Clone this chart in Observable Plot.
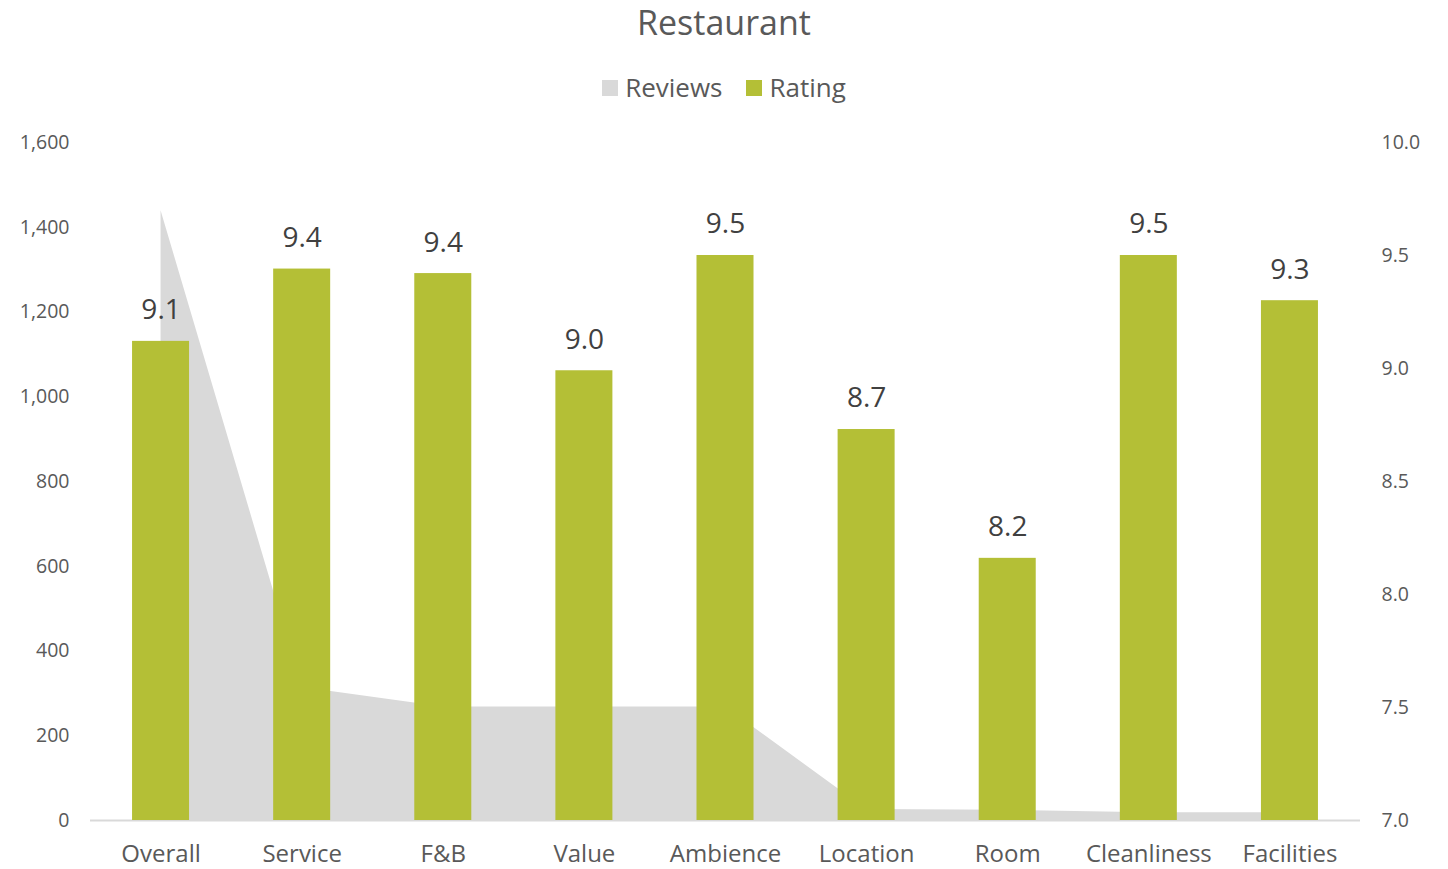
<!DOCTYPE html>
<html><head><meta charset="utf-8">
<script src="https://cdn.jsdelivr.net/npm/d3@7"></script>
<script src="https://cdn.jsdelivr.net/npm/@observablehq/plot@0.6"></script>
<style>
body{margin:0;background:#fff;font-family:"Open Sans",sans-serif;color:#595959;width:1448px;}
#title{height:44px;line-height:44px;text-align:center;font-size:34px;}
#legend{height:66px;box-sizing:border-box;padding-top:20px;display:flex;justify-content:center;align-items:center;font-size:26px;gap:24px}
.sw{display:inline-block;width:16px;height:16px;margin-right:7px;vertical-align:middle;position:relative;top:-2px}
</style></head><body>
<div id="title">Restaurant</div>
<div id="legend"><span><span class="sw" style="background:#d9d9d9"></span>Reviews</span><span><span class="sw" style="background:#b4bf36"></span>Rating</span></div>
<div id="chart"></div>
<script>
const categories = ["Overall","Service","F&B","Value","Ambience","Location","Room","Cleanliness","Facilities"];
const reviews = [1439, 314, 268, 268, 268, 26, 24, 18, 18];
const ratings = [9.12, 9.44, 9.42, 8.99, 9.50, 8.73, 8.16, 9.50, 9.30];
const leftTicks = [0, 200, 400, 600, 800, 1000, 1200, 1400, 1600];
const rightTicks = [7.0, 7.5, 8.0, 8.5, 9.0, 9.5, 10.0];

const toY = r => (r - 7) / 3 * 1600;
const fromY = y => 7 + y / 1600 * 3;
const data = categories.map((c, i) => ({c, reviews: reviews[i], rating: ratings[i]}));

const plot = Plot.plot({
  width: 1448, height: 759,
  marginTop: 32, marginBottom: 49, marginLeft: 90, marginRight: 88,
  style: {fontFamily: "Open Sans", fontSize: "19.5px", color: "#595959", background: "#fff"},
  x: {domain: categories, paddingInner: 0.596, paddingOuter: 0.298, round: false, label: null},
  y: {domain: [0, 1600], label: null},
  marks: [
    Plot.areaY(data, {x: "c", y: "reviews", fill: "#d9d9d9", curve: "linear"}),
    Plot.ruleY([0], {stroke: "#d9d9d9", strokeWidth: 2}),
    Plot.barY(data, {x: "c", y: d => toY(d.rating), fill: "#b4bf36"}),
    Plot.text(data, {x: "c", y: d => toY(d.rating), text: d => d.rating.toFixed(1), dy: -31, fontSize: 28, fill: "#404040"}),
    Plot.axisY(leftTicks, {anchor: "left", tickSize: 0, tickPadding: 21, tickFormat: d3.format(","), label: null}),
    Plot.axisY(rightTicks.map(toY), {anchor: "right", tickSize: 0, tickPadding: 21, tickFormat: y => fromY(y).toFixed(1), label: null}),
    Plot.axisX({tickSize: 0, tickPadding: 24, fontSize: 24, label: null})
  ]
});
document.getElementById("chart").appendChild(plot);
</script>
</body></html>
